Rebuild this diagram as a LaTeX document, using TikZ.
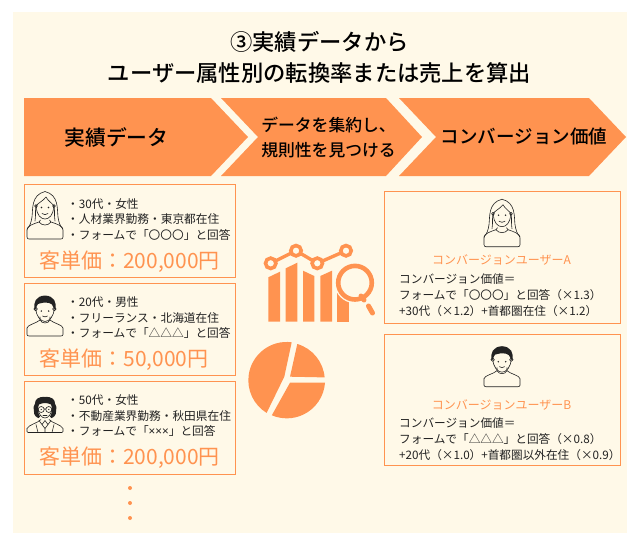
\documentclass[tikz,border=0pt]{standalone}
\usepackage{fontspec}
\setmainfont{Noto Sans CJK JP}[BoldFont={Noto Sans CJK JP Medium}]
\newfontfamily\latinsym{Noto Sans}
\usetikzlibrary{positioning}
\definecolor{org}{HTML}{FF9350}
\definecolor{bgc}{HTML}{FFF9E8}
\definecolor{ink}{HTML}{222222}
\newcommand{\fs}[2]{\fontsize{#1}{#2}\selectfont}
\tikzset{
  x=1pt,y=-1pt,
  panel/.style={draw=org,line width=0.9pt,fill=none},
  arrowshape/.style={fill=org,draw=none},
  head/.style={font=\fs{22.3}{31}\bfseries,text=black,align=center,inner sep=0pt},
  bullets/.style={anchor=north west,inner sep=0pt,align=left,font=\fs{11.7}{15.6},text=ink},
  price/.style={inner sep=0pt,font=\fs{21}{24},text=org},
  cname/.style={inner sep=0pt,font=\fs{12}{14},text=org},
  clines/.style={anchor=north west,inner sep=0pt,align=left,font=\fs{11.65}{16},text=ink},
  ic/.style={draw=ink,line width=0.6pt,fill=none,line join=round,line cap=round},
  woman/.pic={
    \draw[ic] (-18,-9) -- (-18,-2) .. controls (-18,-0.5) and (-17,0) .. (-16,0) -- (16,0) .. controls (17,0) and (18,-0.5) .. (18,-2) -- (18,-9)
      .. controls (18,-13) and (12,-15) .. (6,-17) -- (4.5,-19);
    \draw[ic] (-18,-9) .. controls (-18,-13) and (-12,-15) .. (-6,-17) -- (-4.5,-19);
    \draw[ic] (-6,-17) .. controls (-3,-13) and (3,-13) .. (6,-17);
    \draw[ic] (-18,-10) .. controls (-15,-13) and (-14,-16) .. (-13,-22) .. controls (-12,-30) and (-14,-44) .. (0,-47.5)
      .. controls (14,-44) and (12,-30) .. (13,-22) .. controls (14,-16) and (15,-13) .. (18,-10);
    \draw[ic] (-10,-18) .. controls (-9,-24) and (-10,-28) .. (-9,-33) .. controls (-7,-36) and (-2,-38) .. (1,-42)
      .. controls (3,-38) and (7,-36) .. (9,-33) .. controls (10,-28) and (9,-24) .. (10,-18);
    \draw[ic] (-8.5,-32) .. controls (-8.5,-24) and (-4,-20) .. (0,-20) .. controls (4,-20) and (8.5,-24) .. (8.5,-32);
    \draw[ic] (-9,-33) circle[radius=1.4pt] (9,-33) circle[radius=1.4pt];
    \fill[ink] (-3.5,-31.5) circle[radius=0.8pt] (3.5,-31.5) circle[radius=0.8pt];
    \draw[ic] (-3,-25.5) .. controls (-1,-24) and (1,-24) .. (3,-25.5);
  },
  man/.pic={
    \draw[ic] (-18,-8) -- (-18,-1.5) .. controls (-18,-0.5) and (-17,0) .. (-16,0) -- (16,0) .. controls (17,0) and (18,-0.5) .. (18,-1.5) -- (18,-8)
      .. controls (18,-11) and (8,-13) .. (5,-16) -- (5,-19);
    \draw[ic] (-18,-8) .. controls (-18,-11) and (-8,-13) .. (-5,-16) -- (-5,-19);
    \draw[ic] (-5,-16) .. controls (-3,-12) and (3,-12) .. (5,-16);
    \draw[ic] (-9,-28) .. controls (-9.5,-20) and (-4,-14.5) .. (0,-14.5) .. controls (4,-14.5) and (9.5,-20) .. (9,-28);
    \draw[ic] (-9.3,-27) circle[radius=1.8pt] (9.3,-27) circle[radius=1.8pt];
    \fill[ink] (-10.3,-26) .. controls (-12,-34) and (-9,-40) .. (0,-40.5) .. controls (9,-40) and (12,-34) .. (10.3,-26)
      -- (8.8,-28) .. controls (8,-31) and (6,-33) .. (4,-33) .. controls (0,-34) and (-4,-33) .. (-7,-32) .. controls (-8,-31) and (-8.6,-29) .. (-8.8,-28) -- cycle;
    \fill[ink] (-3.7,-25) circle[radius=0.8pt] (3.7,-25) circle[radius=0.8pt];
    \draw[ic] (-2.5,-20) .. controls (-1,-18.8) and (1,-18.8) .. (2.5,-20);
  },
  lady/.pic={
    \draw[ic] (-18,-4) -- (-18,-1) -- (-17,0) -- (17,0) -- (18,-1) -- (18,-4) .. controls (16,-8) and (8,-9) .. (4,-13);
    \draw[ic] (-18,-4) .. controls (-16,-8) and (-8,-9) .. (-4,-13);
    \draw[ic] (-6,-12) -- (0,-4) -- (6,-12) (-3,-8) -- (0,-12) -- (3,-8) (0,-4) -- (0,0) (-9,-8) -- (-7,0) (9,-8) -- (7,0);
    \fill[ink] (0,-35.5) .. controls (7,-36) and (10,-33) .. (10,-29) .. controls (12.5,-27) and (11,-24) .. (11,-21)
      .. controls (11.5,-17) and (8,-15) .. (6.5,-14.5) -- (5,-16) .. controls (7,-19) and (8,-24) .. (6,-28) .. controls (2,-30) and (-2,-30) .. (-6,-28)
      .. controls (-8,-24) and (-7,-19) .. (-5,-16) -- (-6.5,-14.5) .. controls (-8,-15) and (-11.5,-17) .. (-11,-21) .. controls (-11,-24) and (-12.5,-27) .. (-10,-29) .. controls (-10,-33) and (-7,-36) .. (0,-35.5) -- cycle;
    \draw[ic] (-7,-24) .. controls (-6.5,-18) and (-3,-14.5) .. (0,-14.5) .. controls (3,-14.5) and (6.5,-18) .. (7,-24);
    \draw[ic] (-3.8,-23) circle[radius=3pt] (3.8,-23) circle[radius=3pt] (-0.8,-23.5) -- (0.8,-23.5);
    \fill[ink] (-3.8,-23) circle[radius=0.7pt] (3.8,-23) circle[radius=0.7pt];
    \draw[ic] (-2,-17.5) -- (2,-17.5);
  },
}
\begin{document}
\begin{tikzpicture}
\useasboundingbox (0,0) rectangle (640,541);
\fill[white] (0,0) rectangle (640,541);
\fill[bgc] (13,12) rectangle (627,533);

% title
\node[head] (title) at (319.5,57) {③実績データから\\ユーザー属性別の転換率または売上を算出};

% process arrows
\fill[arrowshape] (24,98) -- (211,98) -- (248,137) -- (211,176) -- (24,176) -- cycle;
\fill[arrowshape] (221,98) -- (386,98) -- (422,137) -- (386,176) -- (221,176) -- (258,137) -- cycle;
\fill[arrowshape] (399,98) -- (589,98) -- (626,137) -- (589,176) -- (399,176) -- (436,137) -- cycle;
\node[inner sep=0pt,font=\fs{20.8}{24}\bfseries,text=black] (a1) at (116.5,137) {実績データ};
\node[inner sep=0pt,font=\fs{16.8}{25}\bfseries,align=left,text=black] (a2) at (328.5,137) {データを集約し、\\規則性を見つける};
\node[inner sep=0pt,font=\fs{18.5}{24}\bfseries,text=black] (a3) at (524,136) {コンバージョン価値};

% left cards
\node[panel,minimum width=211pt,minimum height=93pt,inner sep=0pt] (c1) at (129.5,230.5) {};
\node[panel,minimum width=211pt,minimum height=92pt,inner sep=0pt] (c2) at (129.5,329) {};
\node[panel,minimum width=211pt,minimum height=93pt,inner sep=0pt] (c3) at (129.5,427.5) {};
\pic at (45,239) {woman};
\pic at (45,336) {man};
\pic at (45,432.5) {lady};
\node[bullets] (t1) at (67,198) {・30代・女性\\・人材業界勤務・東京都在住\\・フォームで「〇〇〇」と回答};
\node[bullets] (t2) at (67,296.5) {・20代・男性\\・フリーランス・北海道在住\\・フォームで「△△△」と回答};
\node[bullets] (t3) at (67,394.5) {・50代・女性\\・不動産業界勤務・秋田県在住\\・フォームで「{\latinsym ×××}」と回答};
\node[price] (p1) at (129.5,261.5) {客単価：200,000円};
\node[price] (p2) at (124,359.5) {客単価：50,000円};
\node[price] (p3) at (129.5,458) {客単価：200,000円};

% dots
\fill[org] (130,488) circle[radius=2pt] (130,503) circle[radius=2pt] (130,518) circle[radius=2pt];

% chart icon
\fill[org] (268.3,277.3) -- (280,271.7) -- (280,321.7) -- (268.3,321.7) -- cycle;
\fill[org] (285.7,268.3) -- (297.3,262.7) -- (297.3,321.7) -- (285.7,321.7) -- cycle;
\fill[org] (303,270.7) -- (314.3,276) -- (314.3,321.7) -- (303,321.7) -- cycle;
\fill[org] (320.3,276) -- (332,270.7) -- (332,321.7) -- (320.3,321.7) -- cycle;
\fill[org] (337.3,290) -- (349,290) -- (349,321.7) -- (337.3,321.7) -- cycle;
\draw[org,line width=3.4pt] (270.7,263.3) -- (296,250.7) -- (317.3,263.3) -- (346,250.7);
\foreach \p in {(270.7,263.3),(296,250.7),(317.3,263.3),(346,250.7)}
  \draw[org,line width=3.6pt,fill=bgc] \p circle[radius=5.2pt];
\fill[bgc] (355,282.7) circle[radius=20.5pt];
\draw[org,line width=4.6pt] (355,282.7) circle[radius=16.8pt];
\draw[org,line width=5pt,line cap=round] (361,296) -- (364,300);
\draw[org,line width=5pt,line cap=round] (368.5,306) -- (372.5,313);

% pie icon
\fill[org] (297.3,344) arc[start angle=73.6,end angle=5,radius=38.3pt] -- (290,376.7) -- cycle;
\fill[org] (325,382.7) arc[start angle=-4,end angle=-113,radius=38.3pt] -- (290,382.7) -- cycle;
\fill[org] (291.7,342.3) arc[start angle=82.4,end angle=238.5,radius=38.3pt] -- (284.3,376.7) -- cycle;

% right cards
\node[panel,minimum width=236pt,minimum height=132pt,inner sep=0pt] (r1) at (502,257) {};
\node[panel,minimum width=236pt,minimum height=131pt,inner sep=0pt] (r2) at (502,399.5) {};
\pic at (502,246.7) {woman};
\pic at (502,386.7) {man};
\node[cname] (n1) at (501.5,260) {コンバージョンユーザーA};
\node[cname] (n2) at (501.5,404.5) {コンバージョンユーザーB};
\node[clines] (l1) at (399,273.5) {コンバージョン価値＝\\フォームで「〇〇〇」と回答（×1.3）\\+30代（×1.2）+首都圏在住（×1.2）};
\node[clines] (l2) at (399,417.5) {コンバージョン価値＝\\フォームで「△△△」と回答（×0.8）\\+20代（×1.0）+首都圏以外在住（×0.9）};
\end{tikzpicture}
\end{document}
